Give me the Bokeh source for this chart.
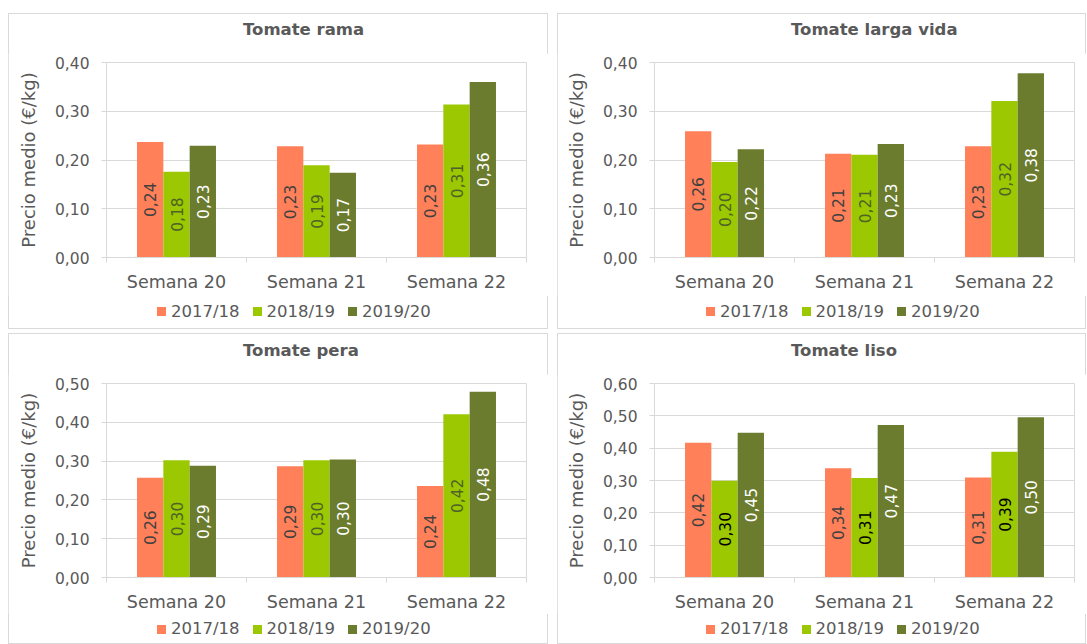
import numpy as np
from bokeh.plotting import figure
from bokeh.models import (ColumnDataSource, FixedTicker, Range1d, Spacer, Div,
                          CustomJSTickFormatter)
from bokeh.layouts import column, row
from bokeh.embed import file_html
from bokeh.resources import INLINE
from bokeh.core.properties import value

FONT = "DejaVu Sans"
GRAY = "#595959"
LINE = "#d9d9d9"

weeks = ["Semana 20", "Semana 21", "Semana 22"]
seasons = ["2017/18", "2018/19", "2019/20"]
colors = ["#FF8059", "#9BC800", "#6B7C2F"]

rama_1718 = [0.237, 0.228, 0.232]
rama_1819 = [0.176, 0.189, 0.314]
rama_1920 = [0.229, 0.174, 0.360]

larga_1718 = [0.259, 0.213, 0.228]
larga_1819 = [0.196, 0.211, 0.321]
larga_1920 = [0.222, 0.233, 0.378]

pera_1718 = [0.257, 0.287, 0.236]
pera_1819 = [0.302, 0.302, 0.421]
pera_1920 = [0.288, 0.304, 0.479]

liso_1718 = [0.417, 0.338, 0.309]
liso_1819 = [0.299, 0.308, 0.389]
liso_1920 = [0.448, 0.472, 0.496]

ticks_04 = [0, 0.1, 0.2, 0.3, 0.4]
labels_04 = ["0,00", "0,10", "0,20", "0,30", "0,40"]
ticks_05 = [0, 0.1, 0.2, 0.3, 0.4, 0.5]
labels_05 = ["0,00", "0,10", "0,20", "0,30", "0,40", "0,50"]
ticks_06 = [0, 0.1, 0.2, 0.3, 0.4, 0.5, 0.6]
labels_06 = ["0,00", "0,10", "0,20", "0,30", "0,40", "0,50", "0,60"]

y_title = "Precio medio (€/kg)"
BW = 0.188


def make_panel(title, series, ticks, tick_labels, w, fh, bl, br, bb,
               title_h, title_pad, legend_h, legend_pad, legend_box, green_txt):
    p = figure(width=w, height=fh, x_range=Range1d(0, len(weeks)),
               y_range=Range1d(ticks[0], ticks[-1]),
               output_backend="svg", toolbar_location=None,
               min_border_left=bl, min_border_right=br, min_border_top=9,
               min_border_bottom=bb, background_fill_color="white",
               border_fill_color="white", outline_line_color=LINE)
    txt_colors = ["#404040", green_txt, "#FFFFFF"]
    for i, vals in enumerate(series):
        xs = [j + 0.5 + (i - 1) * BW for j in range(len(weeks))]
        src = ColumnDataSource(dict(
            x=xs, top=vals, mid=[v / 2 for v in vals],
            lab=[f"{v:.2f}".replace(".", ",") for v in vals]))
        p.vbar(x="x", top="top", width=BW, source=src,
               fill_color=colors[i], line_color=None)
        p.text(x="x", y="mid", text="lab", source=src, angle=np.pi / 2,
               text_align="center", text_baseline="middle",
               text_font=value(FONT), text_font_size="15.5px",
               text_color=txt_colors[i])

    # axes
    p.xgrid.visible = False
    p.ygrid.grid_line_color = LINE
    p.xaxis.ticker = FixedTicker(ticks=[j + 0.5 for j in range(len(weeks))],
                                 minor_ticks=list(range(len(weeks) + 1)))
    p.xaxis.formatter = CustomJSTickFormatter(args=dict(wk=weeks),
                                              code="return wk[Math.floor(tick)];")
    p.xaxis.axis_line_color = LINE
    p.xaxis.major_tick_line_color = None
    p.xaxis.major_tick_out = 0
    p.xaxis.major_tick_in = 0
    p.xaxis.minor_tick_line_color = LINE
    p.xaxis.minor_tick_out = 5
    p.xaxis.minor_tick_in = 0
    p.xaxis.major_label_text_font = FONT
    p.xaxis.major_label_text_font_size = "17.5px"
    p.xaxis.major_label_text_color = GRAY
    p.xaxis.major_label_standoff = 9

    p.yaxis.ticker = FixedTicker(ticks=ticks)
    p.yaxis.formatter = CustomJSTickFormatter(
        args=dict(tv=ticks, tl=tick_labels),
        code="let k = 0; for (let i = 0; i < tv.length; i++) { if (Math.abs(tv[i] - tick) < 1e-9) k = i; } return tl[k];")
    p.yaxis.axis_line_color = LINE
    p.yaxis.major_tick_line_color = LINE
    p.yaxis.major_tick_out = 5
    p.yaxis.major_tick_in = 0
    p.yaxis.minor_tick_line_color = None
    p.yaxis.major_label_text_font = FONT
    p.yaxis.major_label_text_font_size = "15.5px"
    p.yaxis.major_label_text_color = GRAY
    p.yaxis.major_label_standoff = 12
    p.yaxis.axis_label = y_title
    p.yaxis.axis_label_text_font = FONT
    p.yaxis.axis_label_text_font_style = "normal"
    p.yaxis.axis_label_text_font_size = "18px"
    p.yaxis.axis_label_text_color = GRAY
    p.yaxis.axis_label_standoff = 13

    title_div = Div(
        text=(f'<div style="padding-left:{bl + 137}px;padding-top:{title_pad}px;'
              f'font-family:\'{FONT}\';font-weight:bold;font-size:16.5px;line-height:20px;'
              f'color:{GRAY};white-space:nowrap">{title}</div>'),
        width=w, height=title_h, margin=0)

    items = "".join(
        f'<span style="display:inline-block;width:9px;height:9px;background:{c};'
        f'margin-right:5px"></span><span style="margin-right:13px">{s}</span>'
        for s, c in zip(seasons, colors))
    legend_div = Div(
        text=(f'<div style="padding-left:149px;padding-top:{legend_pad}px;display:flex;'
              f'align-items:center;height:{legend_box}px;font-family:\'{FONT}\';font-size:16.5px;'
              f'color:{GRAY};white-space:nowrap">{items}</div>'),
        width=w, height=legend_h, margin=0)

    return column(title_div, p, legend_div, spacing=0,
                  styles={"outline": "1px solid #d9d9d9", "outline-offset": "-1px",
                          "background": "white"})


p1 = make_panel("Tomate rama", [rama_1718, rama_1819, rama_1920], ticks_04, labels_04,
                540, 243, 98, 22, 39, 40, 7, 33, 11, 20, "#4F6228")
p2 = make_panel("Tomate larga vida", [larga_1718, larga_1819, larga_1920], ticks_04, labels_04,
                529, 243, 97, 12, 39, 40, 7, 33, 11, 20, "#4F6228")
p3 = make_panel("Tomate pera", [pera_1718, pera_1819, pera_1920], ticks_05, labels_05,
                540, 240, 98, 22, 37, 41, 8, 30, 14, 16, "#4F6228")
p4 = make_panel("Tomate liso", [liso_1718, liso_1819, liso_1920], ticks_06, labels_06,
                529, 240, 97, 12, 37, 41, 8, 30, 14, 16, "#000000")

layout = column(Spacer(height=13),
                row(Spacer(width=8), p1, Spacer(width=9), p2),
                Spacer(height=4),
                row(Spacer(width=8), p3, Spacer(width=9), p4))

open("out.html", "w").write(file_html(layout, INLINE))
